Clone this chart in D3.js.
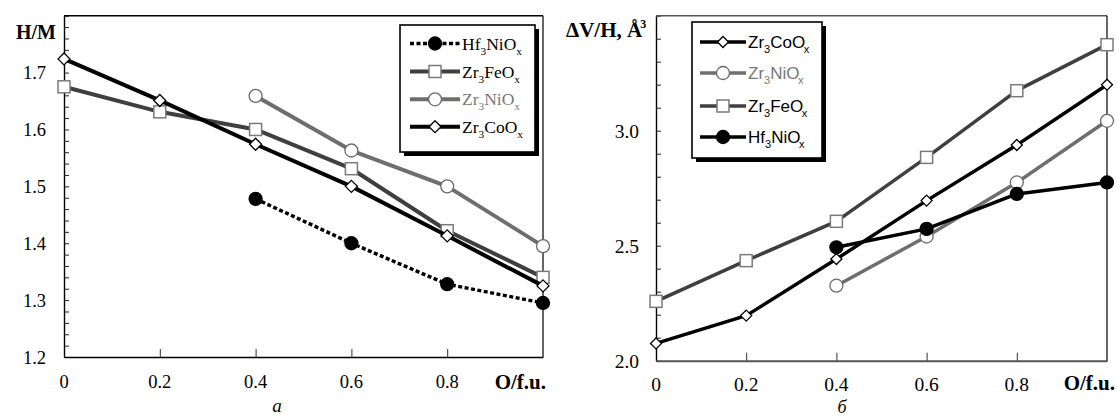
<!DOCTYPE html>
<html>
<head>
<meta charset="utf-8">
<script src="https://cdn.jsdelivr.net/npm/d3@7/dist/d3.min.js"></script>
<style>
  html, body { margin: 0; padding: 0; background: #fff; }
  svg { display: block; }
</style>
</head>
<body>
<svg id="chart" width="1117" height="417"></svg>
<script>
// Oxygen content per formula unit
const oxygen = [0, 0.2, 0.4, 0.6, 0.8, 1.0];

// Panel (а): hydrogen capacity H/M
const hmHf3Ni = [null, null, 1.478, 1.40, 1.328, 1.295];
const hmZr3Fe = [1.675, 1.631, 1.600, 1.531, 1.422, 1.340];
const hmZr3Ni = [null, null, 1.659, 1.563, 1.500, 1.395];
const hmZr3Co = [1.724, 1.651, 1.574, 1.500, 1.413, 1.325];

// Panel (б): volume increase per hydrogen atom, Å³
const dvZr3Co = [2.075, 2.196, 2.442, 2.696, 2.938, 3.200];
const dvZr3Ni = [null, null, 2.326, 2.540, 2.775, 3.043];
const dvZr3Fe = [2.258, 2.435, 2.606, 2.884, 3.174, 3.374];
const dvHf3Ni = [null, null, 2.493, 2.573, 2.725, 2.775];

const xTickLabels = ["0", "0.2", "0.4", "0.6", "0.8"];
const hmTicks = [1.2, 1.3, 1.4, 1.5, 1.6, 1.7];
const dvTicks = [2.0, 2.5, 3.0];

const SERIF = "'Liberation Serif', 'Times New Roman', Times, serif";
const SANS = "'Liberation Sans', Arial, Helvetica, sans-serif";

const svg = d3.select("#chart");

const BLACK = "#000", DARK = "#3f3f3f", MID = "#6e6e6e";

// series styles
const styles = {
  Hf3Ni:  { line: BLACK, marker: "circle", fill: BLACK, stroke: BLACK },
  Zr3Fe:  { line: DARK,  marker: "square", fill: "#fff", stroke: "#7a7a7a" },
  Zr3Ni:  { line: MID,   marker: "circle", fill: "#fff", stroke: "#6a6a6a" },
  Zr3Co:  { line: BLACK, marker: "diamond", fill: "#fff", stroke: BLACK }
};

function drawMarker(g, kind, cx, cy, st, size) {
  if (kind === "circle") {
    g.append("circle").attr("cx", cx).attr("cy", cy).attr("r", size / 2)
      .attr("fill", st.fill).attr("stroke", st.stroke).attr("stroke-width", 1.3);
  } else if (kind === "square") {
    g.append("rect").attr("x", cx - size / 2).attr("y", cy - size / 2)
      .attr("width", size).attr("height", size)
      .attr("fill", st.fill).attr("stroke", st.stroke).attr("stroke-width", 1.5);
  } else {
    const h = size / 2;
    g.append("path")
      .attr("d", `M${cx},${cy - h}L${cx + h},${cy}L${cx},${cy + h}L${cx - h},${cy}Z`)
      .attr("fill", st.fill).attr("stroke", st.stroke).attr("stroke-width", 1.3);
  }
}

function drawSeries(g, x, y, values, st, opts) {
  const pts = oxygen.map((o, i) => [o, values[i]]).filter(d => d[1] !== null);
  const line = d3.line().x(d => x(d[0])).y(d => y(d[1]));
  g.append("path").datum(pts).attr("d", line)
    .attr("fill", "none").attr("stroke", st.line)
    .attr("stroke-width", opts.width)
    .attr("stroke-dasharray", opts.dash || null)
    .attr("stroke-linejoin", "round");
  pts.forEach(d => drawMarker(g, st.marker, x(d[0]), y(d[1]), st, opts.size));
}

function frame(g, x, y, minorTicks, majorTicks, fmt, labelSize, labelX, opts) {
  const [x0, x1] = x.range();
  const [y0, y1] = y.range(); // y0 bottom, y1 top
  // minor ticks on the left axis, pointing inward
  g.append("g").attr("transform", `translate(${x0},0)`)
    .call(d3.axisLeft(y).tickValues(minorTicks).tickSize(-5).tickFormat("").tickSizeOuter(0))
    .call(s => s.select(".domain").attr("stroke", BLACK).attr("stroke-width", 1.4))
    .call(s => s.selectAll(".tick line").attr("stroke", "#222").attr("stroke-width", 1));
  // bottom axis ticks
  g.append("g").attr("transform", `translate(0,${y0})`)
    .call(d3.axisBottom(x).tickValues([0.2, 0.4, 0.6, 0.8]).tickSize(-8).tickFormat("").tickSizeOuter(0))
    .call(s => s.select(".domain").attr("stroke", opts.bottomColor).attr("stroke-width", opts.bottomWidth))
    .call(s => s.selectAll(".tick line").attr("stroke", "#333").attr("stroke-width", 1));
  // top and right frame lines
  g.append("line").attr("x1", x0).attr("x2", x1).attr("y1", y1).attr("y2", y1)
    .attr("stroke", opts.topColor).attr("stroke-width", 1.4);
  g.append("line").attr("x1", x1).attr("x2", x1).attr("y1", y1).attr("y2", y0)
    .attr("stroke", BLACK).attr("stroke-width", 1.2);
  // y labels
  g.selectAll(".ylab").data(majorTicks).join("text")
    .attr("x", labelX).attr("y", d => y(d) + labelSize * 0.36)
    .attr("text-anchor", "end").attr("font-size", labelSize)
    .attr("font-family", SERIF).attr("fill", BLACK)
    .text(d => fmt(d));
  // x labels
  g.selectAll(".xlab").data(xTickLabels).join("text")
    .attr("x", d => x(+d)).attr("y", y0 + opts.xLabelDy)
    .attr("text-anchor", "middle").attr("font-size", labelSize)
    .attr("font-family", SERIF).attr("fill", BLACK)
    .text(d => d);
}

function legend(g, bx, by, bw, bh, rows, rowY, lineX0, lineX1, family, fontSize) {
  g.append("rect").attr("x", bx + 4).attr("y", by + 4).attr("width", bw).attr("height", bh)
    .attr("fill", BLACK);
  g.append("rect").attr("x", bx).attr("y", by).attr("width", bw).attr("height", bh)
    .attr("fill", "#fff").attr("stroke", BLACK).attr("stroke-width", 1.6);
  rows.forEach((r, i) => {
    const cy = rowY[i];
    g.append("line").attr("x1", lineX0).attr("x2", lineX1).attr("y1", cy).attr("y2", cy)
      .attr("stroke", r.st.line).attr("stroke-width", r.width)
      .attr("stroke-dasharray", r.dash || null);
    drawMarker(g, r.st.marker, (lineX0 + lineX1) / 2, cy, r.st, r.size);
    const t = g.append("text").attr("font-family", family)
      .attr("x", lineX1 + 2).attr("y", cy + fontSize * 0.35)
      .attr("font-size", fontSize).attr("fill", r.color);
    t.append("tspan").text(r.a);
    t.append("tspan").attr("font-size", fontSize * 0.65).attr("dy", 5).text("3");
    t.append("tspan").attr("dy", -5).text(r.b);
    t.append("tspan").attr("font-size", fontSize * 0.65).attr("dy", 5)
      .attr("dx", r.xdx || 0).text("x");
  });
}

// ---------- Panel а ----------
const gA = svg.append("g");
const xA = d3.scaleLinear().domain([0, 1]).range([64, 543]);
const yA = d3.scaleLinear().domain([1.2, 1.8]).range([357, 15.7]);
const minorA = d3.range(0, 31).map(i => +(1.2 + i * 0.02).toFixed(2));
frame(gA, xA, yA, minorA, hmTicks, d3.format(".1f"), 18.5, 46,
  { bottomColor: BLACK, bottomWidth: 1.4, topColor: BLACK, xLabelDy: 31 });

drawSeries(gA, xA, yA, hmHf3Ni, styles.Hf3Ni, { width: 3.5, dash: "4,2.5", size: 13 });
drawSeries(gA, xA, yA, hmZr3Fe, styles.Zr3Fe, { width: 4, size: 12 });
drawSeries(gA, xA, yA, hmZr3Ni, styles.Zr3Ni, { width: 4, size: 13 });
drawSeries(gA, xA, yA, hmZr3Co, styles.Zr3Co, { width: 4, size: 12 });

gA.append("text").attr("x", 16).attr("y", 39).attr("font-size", 20)
  .attr("font-family", SERIF).attr("font-weight", "bold").text("H/M");
gA.append("text").attr("x", 546).attr("y", 389).attr("font-size", 21)
  .attr("font-family", SERIF).attr("font-weight", "bold").attr("text-anchor", "end").text("O/f.u.");
gA.append("text").attr("x", 277).attr("y", 412).attr("font-size", 19)
  .attr("font-family", SERIF).attr("font-style", "italic").attr("text-anchor", "middle").text("а");

legend(gA, 400, 25, 135, 127, [
  { st: styles.Hf3Ni, width: 3.5, dash: "4,2.5", size: 13, a: "Hf", b: "NiO", color: BLACK },
  { st: styles.Zr3Fe, width: 4, size: 12, a: "Zr", b: "FeO", color: BLACK },
  { st: styles.Zr3Ni, width: 4, size: 13, a: "Zr", b: "NiO", color: "#777" },
  { st: styles.Zr3Co, width: 4, size: 12, a: "Zr", b: "CoO", color: BLACK }
], [43.5, 71.5, 99.3, 126.7], 410, 460, SERIF, 17.5);

// ---------- Panel б ----------
const gB = svg.append("g");
const xB = d3.scaleLinear().domain([0, 1]).range([656, 1107]);
const yB = d3.scaleLinear().domain([2.0, 3.5]).range([360.7, 15.7]);
const minorB = d3.range(0, 16).map(i => +(2.0 + i * 0.1).toFixed(1));
frame(gB, xB, yB, minorB, dvTicks, d3.format(".1f"), 19.5, 639,
  { bottomColor: "#555", bottomWidth: 2, topColor: "#555", xLabelDy: 30 });

drawSeries(gB, xB, yB, dvZr3Fe, styles.Zr3Fe, { width: 3.5, size: 12 });
drawSeries(gB, xB, yB, dvZr3Ni, styles.Zr3Ni, { width: 3.5, size: 13 });
drawSeries(gB, xB, yB, dvZr3Co, styles.Zr3Co, { width: 3.5, size: 11 });
drawSeries(gB, xB, yB, dvHf3Ni, styles.Hf3Ni, { width: 3.5, size: 13 });

const yl = gB.append("text").attr("x", 566).attr("y", 37).attr("font-size", 21)
  .attr("font-family", SERIF).attr("font-weight", "bold");
yl.append("tspan").text("ΔV/H, Å");
yl.append("tspan").attr("font-size", 12).attr("dx", -2).attr("dy", -9).text("3");
gB.append("text").attr("x", 1115).attr("y", 390).attr("font-size", 21)
  .attr("font-family", SERIF).attr("font-weight", "bold").attr("text-anchor", "end").text("O/f.u.");
gB.append("text").attr("x", 842).attr("y", 413).attr("font-size", 18)
  .attr("font-family", SERIF).attr("font-style", "italic").attr("text-anchor", "middle").text("б");

legend(gB, 692, 22, 130, 136, [
  { st: styles.Zr3Co, width: 3.5, size: 11, a: "Zr", b: "CoO", color: BLACK, xdx: -1.5 },
  { st: styles.Zr3Ni, width: 3.5, size: 13, a: "Zr", b: "NiO", color: "#777", xdx: -1.5 },
  { st: styles.Zr3Fe, width: 3.5, size: 12, a: "Zr", b: "FeO", color: BLACK, xdx: -1.5 },
  { st: styles.Hf3Ni, width: 3.5, size: 13, a: "Hf", b: "NiO", color: BLACK, xdx: -1.5 }
], [42, 73, 106, 137], 700, 746, SANS, 17);
</script>
</body>
</html>
